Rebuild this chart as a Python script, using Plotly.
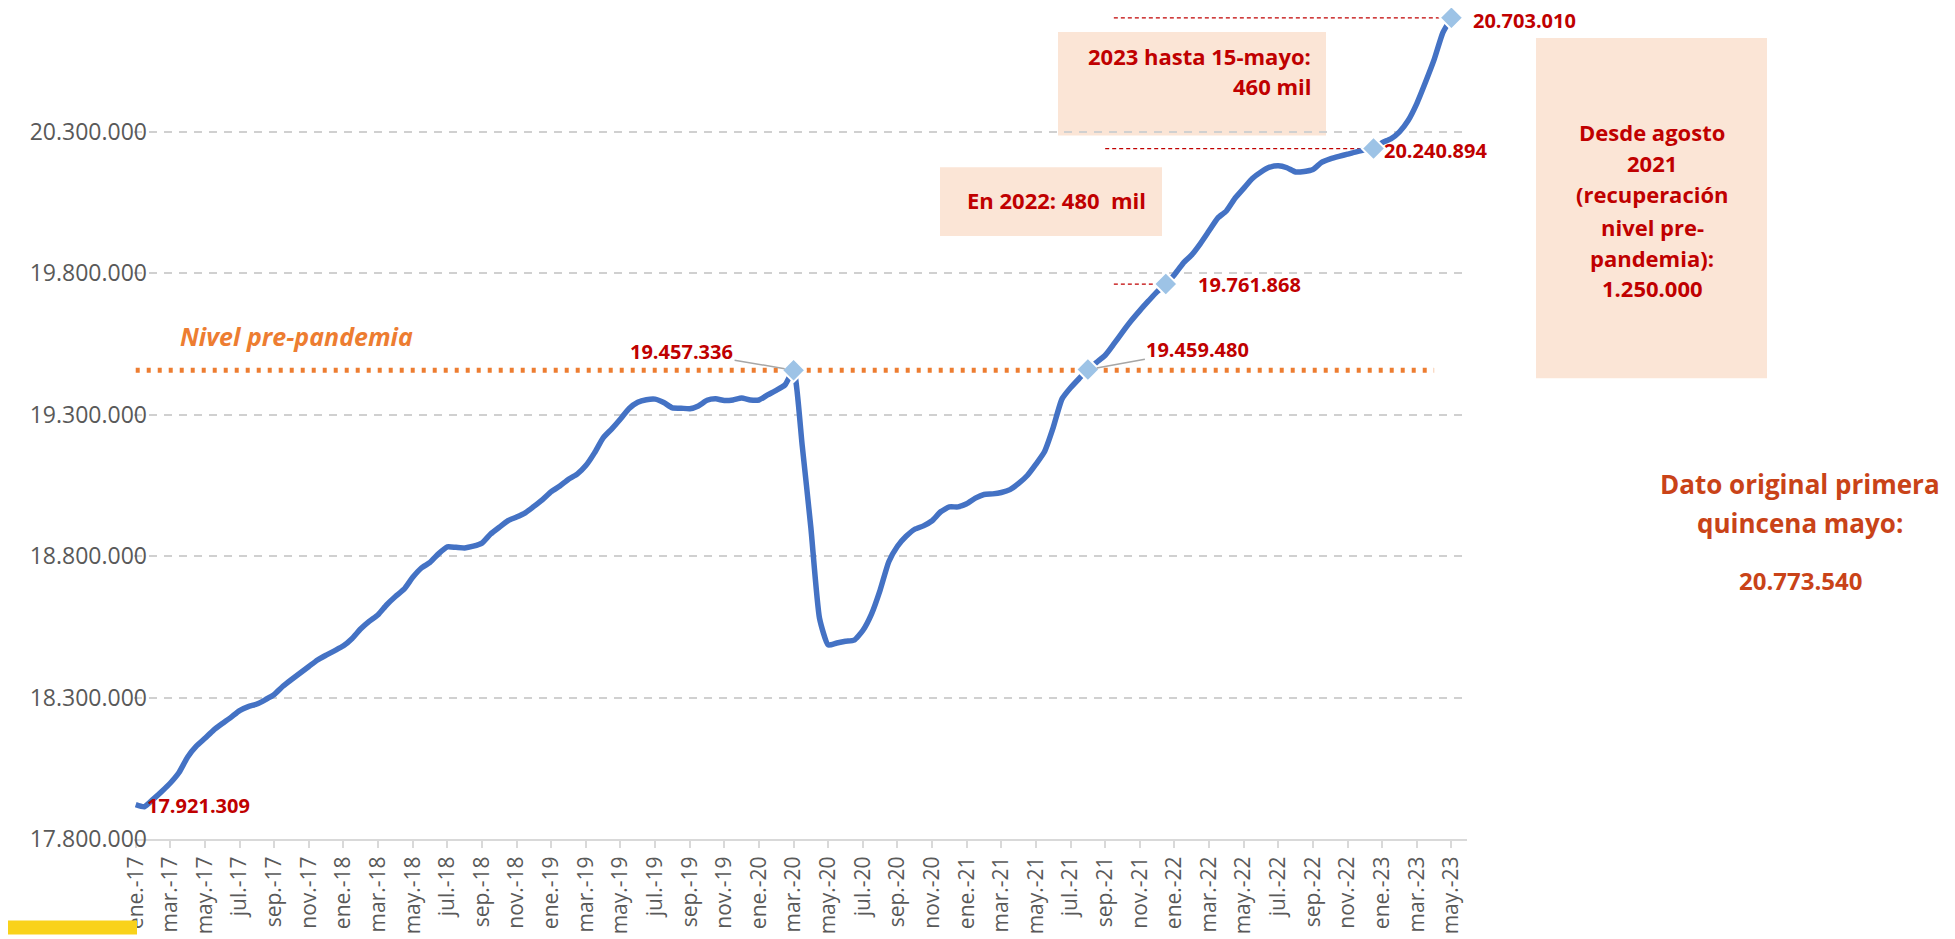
import plotly.graph_objects as go

# ---------------- figure geometry ----------------
# the page body adds an 8px margin, so the figure is drawn 8px smaller and
# all reference pixel positions are shifted by OFF
OFF = 8
FIG_W, FIG_H = 1955 - OFF, 939 - OFF
ML, MR, MT, MB = 134 - OFF, 488, 13 - OFF, 96
PW = FIG_W - ML - MR
PH = FIG_H - MT - MB


def px(x):
    return (x - OFF - ML) / PW


def py(y):
    return (FIG_H - MB - (y - OFF)) / PH


# ---------------- data (afiliados, quincenal) ----------------
MESES = ["ene", "feb", "mar", "abr", "may", "jun", "jul", "ago", "sep", "oct", "nov", "dic"]
ANIOS = ["17", "18", "19", "20", "21", "22", "23"]

afil_2017 = [17921309, 17914000, 17940000, 17968000, 17998000, 18035000, 18090000, 18128000,
             18156000, 18185000, 18208000, 18230000, 18254000, 18268000, 18277000, 18293000,
             18311000, 18340000, 18364000, 18387000, 18410000, 18433000, 18450000, 18466000]
afil_2018 = [18483000, 18509000, 18543000, 18570000, 18593000, 18628000, 18657000, 18683000,
             18725000, 18758000, 18778000, 18809000, 18833000, 18831000, 18829000, 18835000,
             18846000, 18878000, 18902000, 18925000, 18938000, 18953000, 18976000, 19000000]
afil_2019 = [19028000, 19048000, 19072000, 19090000, 19120000, 19165000, 19218000, 19250000,
             19285000, 19322000, 19344000, 19353000, 19355000, 19343000, 19324000, 19323000,
             19321000, 19331000, 19351000, 19356000, 19350000, 19352000, 19359000, 19352000]
afil_2020 = [19352000, 19370000, 19386000, 19405000, 19457336, 19190000, 18900000, 18580000,
             18486000, 18493000, 18499000, 18503000, 18537000, 18595000, 18680000, 18780000,
             18835000, 18870000, 18895000, 18907000, 18925000, 18957000, 18974000, 18974000]
afil_2021 = [18985000, 19005000, 19018000, 19020000, 19025000, 19035000, 19057000, 19085000,
             19125000, 19170000, 19255000, 19355000, 19395000, 19428000, 19459480, 19485000,
             19510000, 19550000, 19592000, 19632000, 19668000, 19702000, 19735000, 19761868]
afil_2022 = [19795000, 19835000, 19865000, 19905000, 19950000, 19995000, 20020000, 20065000,
             20100000, 20135000, 20158000, 20175000, 20180000, 20173000, 20158000, 20160000,
             20167000, 20192000, 20204000, 20213000, 20221000, 20229000, 20236000, 20240894]
afil_2023 = [20262000, 20275000, 20300000, 20340000, 20400000, 20475000, 20555000, 20650000,
             20703010]

afiliados = afil_2017 + afil_2018 + afil_2019 + afil_2020 + afil_2021 + afil_2022 + afil_2023

periodos = []
for a in ANIOS:
    for mes in MESES:
        for q in ("1ª", "2ª"):
            periodos.append(f"{mes}.-{a} {q}")
periodos = periodos[:len(afiliados)]

TICK_LABELS = ["ene.-17", "mar.-17", "may.-17", "jul.-17", "sep.-17", "nov.-17",
               "ene.-18", "mar.-18", "may.-18", "jul.-18", "sep.-18", "nov.-18",
               "ene.-19", "mar.-19", "may.-19", "jul.-19", "sep.-19", "nov.-19",
               "ene.-20", "mar.-20", "may.-20", "jul.-20", "sep.-20", "nov.-20",
               "ene.-21", "mar.-21", "may.-21", "jul.-21", "sep.-21", "nov.-21",
               "ene.-22", "mar.-22", "may.-22", "jul.-22", "sep.-22", "nov.-22",
               "ene.-23", "mar.-23", "may.-23"]
TICK_VALS = periodos[::4]

PRE_PANDEMIA = 19457336
HITOS = ["mar.-20 1ª", "ago.-21 1ª", "dic.-21 2ª", "dic.-22 2ª", "may.-23 1ª"]
DATO_ORIGINAL = "20.773.540"

Y_TICKS = [17800000, 18300000, 18800000, 19300000, 19800000, 20300000]
Y_RANGE = [17800000, 20720000]

# ---------------- styles ----------------
BLUE = "#4472C4"
LIGHT_BLUE = "#9DC3E6"
ORANGE = "#ED7D31"
DARK_RED = "#C00000"
ORANGE_RED = "#C94318"
PEACH = "#FBE5D6"
GRAY_TXT = "#595959"
GRID = "#D0D0D0"
FONT = "Open Sans"


def fmt(v):
    return f"{v:,}".replace(",", ".")


idx = {p: i for i, p in enumerate(periodos)}
hito_idx = [idx[h] for h in HITOS]
hito_val = [afiliados[i] for i in hito_idx]

fig = go.Figure()

fig.add_trace(go.Scatter(
    x=periodos, y=afiliados, mode="lines",
    line=dict(color=BLUE, width=5.5, shape="spline", smoothing=0.5),
    hoverinfo="skip", showlegend=False))

fig.add_trace(go.Scatter(
    x=HITOS, y=hito_val, mode="markers",
    marker=dict(symbol="diamond", size=18, color=LIGHT_BLUE, line=dict(color="white", width=2)),
    cliponaxis=False, hoverinfo="skip", showlegend=False))

shapes = []
# pre-pandemic dotted level line
shapes.append(dict(type="line", xref="x", yref="y", x0=0, x1=150, y0=PRE_PANDEMIA, y1=PRE_PANDEMIA,
                   line=dict(color=ORANGE, width=5, dash="4px,7px"), layer="between"))
# red dashed guide lines
for (x0, x1, yv) in [(113, hito_idx[2], hito_val[2]),
                     (112, hito_idx[3], hito_val[3]),
                     (113, hito_idx[4] + 0.6, hito_val[4])]:
    shapes.append(dict(type="line", xref="x", yref="y", x0=x0, x1=x1, y0=yv, y1=yv,
                       line=dict(color=DARK_RED, width=1.3, dash="4px,3px"), layer="between"))
# text boxes
for (x0, y0, x1, y1) in [(1058, 32, 1326, 136), (940, 168, 1162, 237), (1536, 38, 1767, 380)]:
    shapes.append(dict(type="rect", xref="paper", yref="paper",
                       x0=px(x0), x1=px(x1), y0=py(y1), y1=py(y0),
                       fillcolor=PEACH, line=dict(width=0), layer="between"))
# yellow corner bar
shapes.append(dict(type="rect", xref="paper", yref="paper", x0=px(0), x1=px(137),
                   y0=py(939), y1=py(925), fillcolor="#F9D21A", line=dict(width=0), layer="above"))

ann = []
lab_font = dict(family=FONT, size=20, color=DARK_RED)
# first value label
ann.append(dict(x=0, y=afiliados[0], xref="x", yref="y", text=f"<b>{fmt(afiliados[0])}</b>",
                showarrow=False, xanchor="left", yanchor="middle", xshift=9, yshift=-1, font=lab_font))
# labels with leader lines
ann.append(dict(x=hito_idx[0], y=hito_val[0], xref="x", yref="y", text=f"<b>{fmt(hito_val[0])}</b>",
                showarrow=True, arrowhead=0, arrowwidth=1.5, arrowcolor="#A6A6A6", ax=-112, ay=-19,
                standoff=9, font=lab_font))
ann.append(dict(x=hito_idx[1], y=hito_val[1], xref="x", yref="y", text=f"<b>{fmt(hito_val[1])}</b>",
                showarrow=True, arrowhead=0, arrowwidth=1.5, arrowcolor="#A6A6A6", ax=110, ay=-20,
                standoff=9, font=lab_font))
for i, xs, ys in [(2, 30, 0), (3, 8, -2), (4, 20, -3)]:
    ann.append(dict(x=hito_idx[i], y=hito_val[i], xref="x", yref="y", text=f"<b>{fmt(hito_val[i])}</b>",
                    showarrow=False, xanchor="left", yanchor="middle", xshift=xs, yshift=ys, font=lab_font))

# Nivel pre-pandemia
ann.append(dict(x=px(178), y=py(338), xref="paper", yref="paper", text="<b><i>Nivel pre-pandemia</i></b>",
                showarrow=False, xanchor="left", yanchor="middle",
                font=dict(family=FONT, size=25, color=ORANGE)))


def text_lines(lines, xc, ys, size, color, anchor="center"):
    for t, yv in zip(lines, ys):
        ann.append(dict(x=px(xc), y=py(yv), xref="paper", yref="paper", text=f"<b>{t}</b>",
                        showarrow=False, xanchor=anchor, yanchor="middle",
                        font=dict(family=FONT, size=size, color=color)))


text_lines(["2023 hasta 15-mayo:", "460 mil"], 1313, [56.7, 86.7], 22, DARK_RED, anchor="right")
text_lines(["En 2022: 480\u00a0 mil"], 1056, [200.7], 22, DARK_RED)
text_lines(["Desde agosto", "2021", "(recuperación", "nivel pre-", "pandemia):", "1.250.000"],
           1652, [132.7, 163.3, 195, 227.7, 259.3, 289.3], 22, DARK_RED)
text_lines(["Dato original primera", "quincena mayo:"], 1800, [486.7, 525], 26, ORANGE_RED)
text_lines([DATO_ORIGINAL], 1800, [583], 24, ORANGE_RED)

fig.update_layout(
    width=FIG_W, height=FIG_H,
    margin=dict(l=ML, r=MR, t=MT, b=MB, pad=0),
    paper_bgcolor="white", plot_bgcolor="white",
    separators=",.",
    shapes=shapes, annotations=ann,
    showlegend=False,
    xaxis=dict(type="category", categoryorder="array", categoryarray=periodos,
               range=[-0.2, len(periodos) + 0.8],
               tickmode="array", tickvals=TICK_VALS, ticktext=TICK_LABELS, tickangle=-90,
               tickfont=dict(family=FONT, size=21, color=GRAY_TXT),
               showgrid=False, zeroline=False,
               showline=True, linecolor="#D9D9D9", linewidth=2,
               ticks="outside", ticklen=7, tickwidth=1.5, tickcolor="#D9D9D9"),
    yaxis=dict(range=Y_RANGE, tickmode="array", tickvals=Y_TICKS, tickformat=",d",
               tickfont=dict(family=FONT, size=23, color=GRAY_TXT),
               showgrid=True, gridcolor=GRID, gridwidth=1.5, griddash="8px,7px",
               zeroline=False, showline=False, ticks="", ticklabelstandoff=-14),
)

fig.write_html("out.html")
